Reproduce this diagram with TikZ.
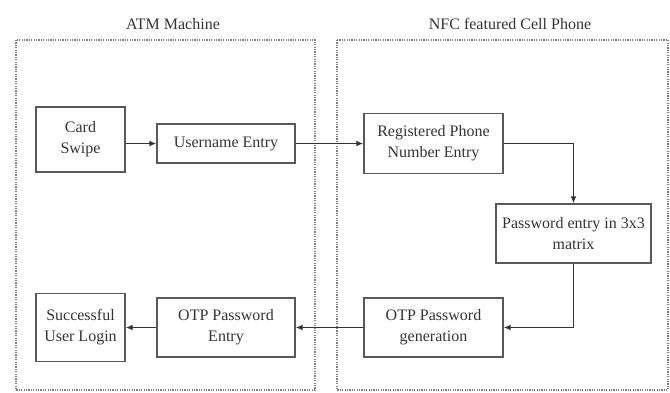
\documentclass[tikz,border=0pt]{standalone}
\usepackage{fontspec}
\setmainfont{Liberation Serif}
\usetikzlibrary{arrows.meta}
\begin{document}
\begin{tikzpicture}[x=1pt,y=-1pt,
	box/.style={draw=black!65,line width=1.4pt,align=center,inner sep=2pt,
		text=black!80,font=\fontsize{16}{21}\selectfont},
	flow/.style={-{Latex[length=7pt,width=6pt]},line width=1.6pt,draw=black!80},
	frame/.style={draw=black!50,dash pattern=on 1.2pt off 1.2pt,line width=1.2pt},
	title/.style={text=black!80,font=\fontsize{16}{18}\selectfont}]
	\useasboundingbox (0,0) rectangle (670,392);
	% the two sides
	\draw[frame] (16,40) rectangle (315,390);
	\node[title] (atm) at (173,24) {ATM Machine};
	\draw[frame] (337,40) rectangle (668,390);
	\node[title] (nfc) at (510,24) {NFC featured Cell Phone};
	% steps
	\node[box,minimum width=89pt,minimum height=65pt] (card) at (80.5,139.5) {Card\\Swipe};
	\node[box,minimum width=138pt,minimum height=39pt] (user) at (226,143.5) {Username Entry};
	\node[box,minimum width=139pt,minimum height=60pt] (reg) at (433.5,143.5) {Registered Phone\\Number Entry};
	\node[box,minimum width=155pt,minimum height=59pt] (pass) at (573.5,233.5) {Password entry in 3x3\\matrix};
	\node[box,minimum width=139pt,minimum height=59pt] (gen) at (433.5,327.5) {OTP Password\\generation};
	\node[box,minimum width=138pt,minimum height=59pt] (otp) at (226,327.5) {OTP Password\\Entry};
	\node[box,minimum width=89pt,minimum height=68pt] (login) at (80.5,327.5) {Successful\\User Login};
	% connectors
	\draw[flow] (card.east |- user) -- (user);
	\draw[flow] (user) -- (reg);
	\draw[flow] (reg.east) -| (pass.north);
	\draw[flow] (pass.south) |- (gen.east);
	\draw[flow] (gen) -- (otp);
	\draw[flow] (otp) -- (login);
\end{tikzpicture}
\end{document}
